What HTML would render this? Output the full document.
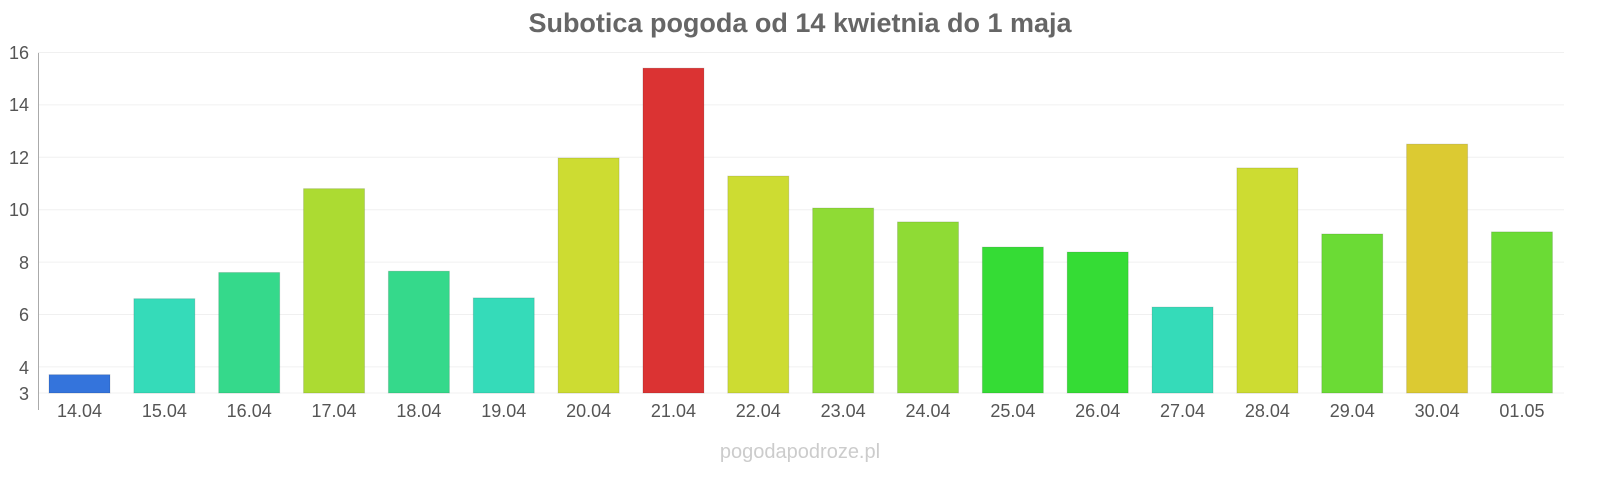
<!DOCTYPE html>
<html><head><meta charset="utf-8"><style>
html,body{margin:0;padding:0;background:#fff;width:1600px;height:480px;overflow:hidden}
</style></head><body>
<svg width="1600" height="480" xmlns="http://www.w3.org/2000/svg" font-family="Liberation Sans, sans-serif">
<text x="800" y="32" text-anchor="middle" font-size="27" font-weight="bold" fill="#666">Subotica pogoda od 14 kwietnia do 1 maja</text>
<g stroke="#f0f0f0" stroke-width="1">
<line x1="38" x2="1564" y1="52.5" y2="52.5"/><line x1="38" x2="1564" y1="104.9" y2="104.9"/>
<line x1="38" x2="1564" y1="157.3" y2="157.3"/><line x1="38" x2="1564" y1="209.7" y2="209.7"/>
<line x1="38" x2="1564" y1="262.1" y2="262.1"/><line x1="38" x2="1564" y1="314.5" y2="314.5"/>
<line x1="38" x2="1564" y1="366.9" y2="366.9"/><line x1="38" x2="1564" y1="393" y2="393"/>
</g>
<line x1="38.5" x2="38.5" y1="53" y2="410" stroke="#aaa"/>
<g font-size="18" fill="#555" text-anchor="end">
<text x="29" y="59">16</text><text x="29" y="111">14</text><text x="29" y="164">12</text>
<text x="29" y="216">10</text><text x="29" y="269">8</text><text x="29" y="321">6</text>
<text x="29" y="374">4</text><text x="29" y="400">3</text>
</g>
<g id="bars"></g>
<g id="labels" font-size="18" fill="#555" text-anchor="middle"></g>
<text x="800" y="458" text-anchor="middle" font-size="20" fill="#ccc">pogodapodroze.pl</text>
</svg>
<script>
var d=[["14.04",3.7,"#3474dc"],["15.04",6.6,"#35dbb9"],["16.04",7.6,"#35d98b"],["17.04",10.8,"#acdb32"],["18.04",7.65,"#35d98b"],["19.04",6.63,"#35dbb9"],["20.04",11.97,"#cddc32"],["21.04",15.4,"#db3333"],["22.04",11.28,"#cddc32"],["23.04",10.06,"#8fdb35"],["24.04",9.53,"#8fdb35"],["25.04",8.57,"#35dc35"],["26.04",8.38,"#35dc35"],["27.04",6.28,"#35dbb9"],["28.04",11.59,"#cddc32"],["29.04",9.07,"#6bdb35"],["30.04",12.5,"#dcca32"],["01.05",9.15,"#6bdb35"]];
var ns="http://www.w3.org/2000/svg",b=document.getElementById("bars"),l=document.getElementById("labels");
d.forEach(function(e,i){var x=49+i*84.85,y=393-(e[1]-3)*26.2;
var r=document.createElementNS(ns,"rect");r.setAttribute("x",x);r.setAttribute("y",y);r.setAttribute("width",61);r.setAttribute("height",393-y);r.setAttribute("fill",e[2]);r.setAttribute("stroke","rgba(0,0,0,0.12)");b.appendChild(r);
var t=document.createElementNS(ns,"text");t.setAttribute("x",x+30.5);t.setAttribute("y",417);t.textContent=e[0];l.appendChild(t);});
</script>
</body></html>
